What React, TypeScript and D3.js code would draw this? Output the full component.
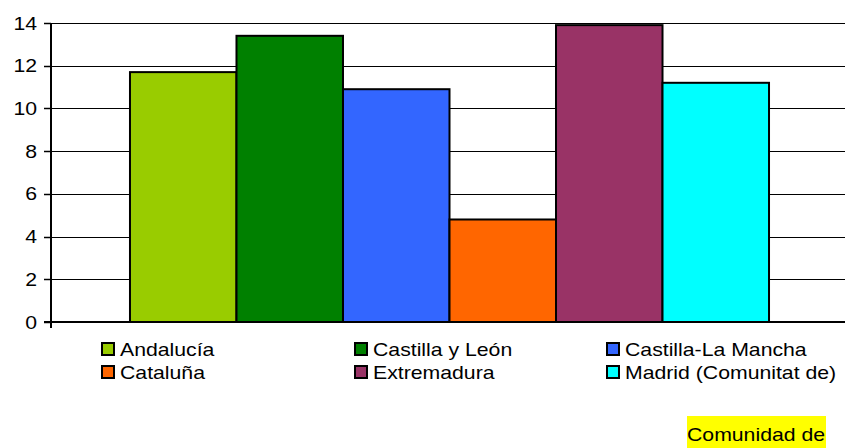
import React from "react";
import * as d3 from "d3";

const categories = [""];
const seriesNames = [
  "Andalucía",
  "Castilla y León",
  "Castilla-La Mancha",
  "Cataluña",
  "Extremadura",
  "Madrid (Comunitat de)",
];
const seriesValues = [11.7, 13.4, 10.9, 4.8, 13.9, 11.2];
const seriesColors = ["#99CC00", "#008000", "#3366FF", "#FF6600", "#993366", "#00FFFF"];
const yTicks = [0, 2, 4, 6, 8, 10, 12, 14];
const footLabel = "Comunidad de";

const W = 845;
const H = 448;
const FONT = "'Liberation Sans', Arial, sans-serif";
const SX = 1.18;

export default function App() {
  const left = 51;
  const right = 848;
  const top = 23;
  const bottom = 322;

  const y = d3.scaleLinear().domain([0, 14]).range([bottom, top]);
  const x0 = d3
    .scaleBand<string>()
    .domain(categories)
    .range([left, right])
    .paddingInner(0)
    .paddingOuter(0.1236);
  const x1 = d3
    .scaleBand<string>()
    .domain(seriesNames)
    .range([0, x0.bandwidth()])
    .padding(0);

  const legendCols = [101, 354, 606];
  const legendRows = [349, 372];

  return (
    <svg
      width={W}
      height={H}
      style={{ position: "absolute", left: 0, top: 0, background: "#fff" }}
    >
      {yTicks.map((t) => (
        <line
          key={"g" + t}
          x1={left}
          x2={right}
          y1={Math.round(y(t)) + 0.5}
          y2={Math.round(y(t)) + 0.5}
          stroke="#000"
          strokeWidth={1}
        />
      ))}
      {categories.map((c) =>
        seriesNames.map((s, i) => {
          const bx = (x0(c) ?? 0) + (x1(s) ?? 0);
          const by = y(seriesValues[i]);
          return (
            <rect
              key={s}
              x={bx}
              y={by}
              width={x1.bandwidth()}
              height={y(0) - by}
              fill={seriesColors[i]}
              stroke="#000"
              strokeWidth={2}
            />
          );
        })
      )}
      <line x1={left} x2={left} y1={top} y2={bottom + 6} stroke="#000" strokeWidth={2} />
      <line x1={left - 7} x2={right} y1={bottom} y2={bottom} stroke="#000" strokeWidth={2} />
      {yTicks.map((t) => (
        <g key={"t" + t}>
          <line
            x1={left - 7}
            x2={left}
            y1={Math.round(y(t)) + 0.5}
            y2={Math.round(y(t)) + 0.5}
            stroke="#000"
            strokeWidth={1.5}
          />
          <text
            transform={`translate(${37},${y(t) + 6.5}) scale(${SX},1)`}
            textAnchor="end"
            fontFamily={FONT}
            fontSize={18}
            fill="#000"
          >
            {t}
          </text>
        </g>
      ))}
      {seriesNames.map((s, i) => {
        const col = i % 3;
        const row = Math.floor(i / 3);
        const lx = legendCols[col];
        const ly = legendRows[row];
        return (
          <g key={"l" + s}>
            <rect
              x={lx + 1}
              y={ly - 6}
              width={12}
              height={12}
              fill={seriesColors[i]}
              stroke="#000"
              strokeWidth={2}
            />
            <text
              transform={`translate(${lx + 19},${ly + 7}) scale(${SX},1)`}
              fontFamily={FONT}
              fontSize={18}
              fill="#000"
            >
              {s}
            </text>
          </g>
        );
      })}
      <rect x={687} y={416} width={139} height={32} fill="#FFFF00" />
      <text
        transform={`translate(${687},${441}) scale(${SX},1)`}
        fontFamily={FONT}
        fontSize={18}
        fill="#000"
      >
        {footLabel}
      </text>
    </svg>
  );
}
